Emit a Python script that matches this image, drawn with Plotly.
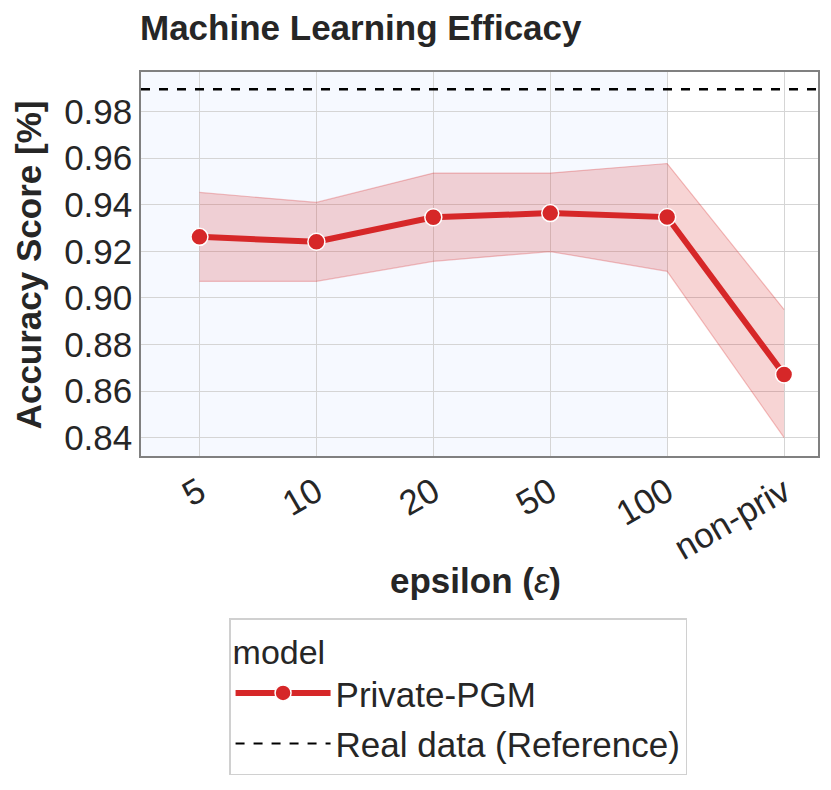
import plotly.graph_objects as go

# valores
epsilons = ["5", "10", "20", "50", "100", "non-priv"]
acc_mean = [0.9262, 0.9241, 0.9346, 0.9364, 0.9347, 0.8671]
acc_upper = [0.9453, 0.9410, 0.9536, 0.9536, 0.9577, 0.8950]
acc_lower = [0.9071, 0.9071, 0.9157, 0.9199, 0.9114, 0.8400]
reference_score = 0.9896
y_ticks = [0.84, 0.86, 0.88, 0.90, 0.92, 0.94, 0.96, 0.98]

FONT = "Liberation Sans, Arial, sans-serif"
RED = "#d62728"
TXT = "#262626"
FS = 35

# la pagina tiene 8px de margen en el body
W, H = 823, 782
L, R, T, B = 133, 11, 64, 334
PW, PH = W - L - R, H - T - B

fig = go.Figure()

# banda de confianza
fig.add_trace(go.Scatter(
    x=epsilons, y=acc_upper, mode="lines",
    line=dict(color="rgba(214,39,40,0.28)", width=1.2),
    showlegend=False, hoverinfo="skip"
))
fig.add_trace(go.Scatter(
    x=epsilons, y=acc_lower, mode="lines",
    line=dict(color="rgba(214,39,40,0.28)", width=1.2),
    fill="tonexty", fillcolor="rgba(214,39,40,0.2)",
    showlegend=False, hoverinfo="skip"
))

fig.add_trace(go.Scatter(
    x=epsilons, y=acc_mean, mode="lines+markers", name="Private-PGM",
    legendgroup="a",
    line=dict(color=RED, width=6),
    marker=dict(size=17, color=RED, line=dict(color="white", width=1.5))
))

# linea de referencia (datos reales)
fig.add_hline(y=reference_score, line=dict(color="black", width=2.5, dash="dash"))
fig.add_trace(go.Scatter(
    x=[None], y=[None], mode="lines", name="Real data (Reference)",
    legendgroup="b",
    line=dict(color="black", width=2, dash="dash")
))

# zona privada sombreada
fig.add_shape(type="rect", xref="x", yref="paper", x0=-0.5, x1=4, y0=0, y1=1,
              fillcolor="#f6f9ff", line=dict(width=0), layer="below")

fig.update_layout(
    width=W, height=H,
    margin=dict(l=L, r=R, t=T, b=B),
    paper_bgcolor="white", plot_bgcolor="white",
    font=dict(family=FONT, size=FS, color=TXT),
    title=dict(text="<b>Machine Learning Efficacy</b>", x=132 / W, xanchor="left",
               y=1 - 20 / H, yanchor="middle", font=dict(size=FS, color=TXT)),
    legend=dict(
        title=dict(text="model", font=dict(size=FS - 1)),
        font=dict(size=FS), orientation="v", traceorder="grouped",
        x=(459 - 141) / PW, xanchor="center", y=(456 - 618) / PH, yanchor="top",
        bordercolor="#d0d0d0", borderwidth=1.5, bgcolor="white",
        itemwidth=95, tracegroupgap=2
    ),
    showlegend=True,
)

fig.update_xaxes(
    type="category", range=[-0.5, 5.29],
    tickangle=-30, tickfont=dict(size=FS),
    showgrid=True, gridcolor="#d5d5d5", gridwidth=1,
    showline=True, linecolor="#808080", linewidth=1.5, mirror=True,
    ticks="", zeroline=False,
)
fig.update_yaxes(
    range=[0.8321, 0.997], tickvals=y_ticks, tickformat=".2f",
    tickfont=dict(size=FS),
    showgrid=True, gridcolor="#d5d5d5", gridwidth=1,
    showline=True, linecolor="#808080", linewidth=1.5, mirror=True,
    ticks="", zeroline=False,
)

# titulos de ejes
fig.add_annotation(text="<b>Accuracy Score [%]</b>", xref="paper", yref="paper",
                   x=(28 - 141) / PW, y=(456 - 265) / PH, xanchor="center", yanchor="middle",
                   textangle=-90, showarrow=False, font=dict(size=FS, color=TXT))
fig.add_annotation(text="<b>epsilon (</b><i>ε</i><b>)</b>", xref="paper", yref="paper",
                   x=(476 - 141) / PW, y=(456 - 580) / PH, xanchor="center", yanchor="middle",
                   showarrow=False, font=dict(size=FS, color=TXT))

fig.write_html("out.html")
